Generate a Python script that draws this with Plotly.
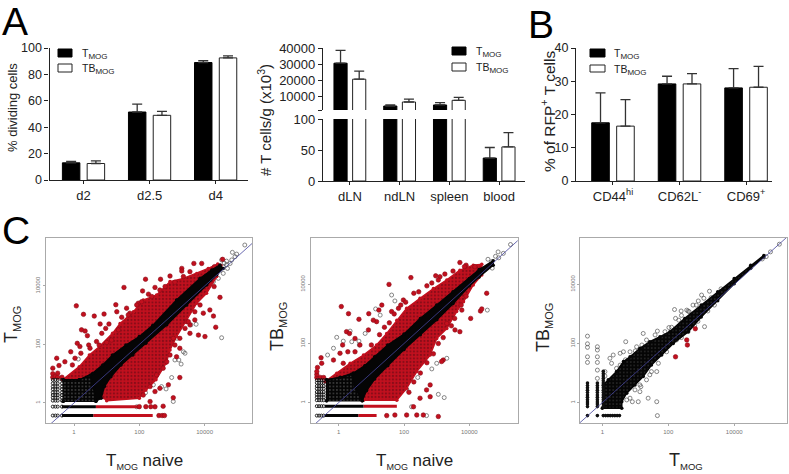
import plotly.graph_objects as go

W, H = 789, 474
FONT = "Liberation Sans"

# ---------- bar data ----------
dividing_days = ["d2", "d2.5", "d4"]
dividing_t = [13, 51.5, 89]
dividing_t_err = [1, 6, 1.5]
dividing_tb = [12.5, 49, 92.5]
dividing_tb_err = [2, 3, 1.5]

organs = ["dLN", "ndLN", "spleen", "blood"]
cells_t = [30500, 3750, 4400, 37]
cells_t_err = [8000, 750, 1400, 17]
cells_tb = [20500, 6250, 7300, 55]
cells_tb_err = [5000, 1750, 1900, 23]

markers_b = ["CD44<sup>hi</sup>", "CD62L<sup>-</sup>", "CD69<sup>+</sup>"]
rfp_t = [17.5, 29.2, 28]
rfp_t_err = [9, 2.3, 5.8]
rfp_tb = [16.5, 29.2, 28.2]
rfp_tb_err = [8, 3.1, 6.3]

# ---------- scatter data: log10 expression ----------
c1_red_cloud = [(-.35,.79),(.16,1.24),(.47,1.64),(.78,1.93),(1.18,2.38),(1.41,2.72),(1.82,3.12),(2.12,3.52),
    (2.53,3.69),(2.94,4.15),(3.35,4.26),(3.76,4.43),(4.11,4.6),(4.4,4.75),(4.5,4.7),(4.37,4.32),(4.06,3.75),
    (3.76,3.41),(3.45,2.84),(3.14,2.27),(2.94,1.81),(2.82,1.36),(2.51,.79),(2.2,.44),(2.0,.16),(1.0,.08)]
c1_black_band = [(-.33,.79),(.16,.79),(.57,1.01),(.88,1.30),(1.18,1.64),(1.59,1.98),(2.0,2.27),(2.41,2.65),
    (3.14,3.52),(3.86,4.26),(4.22,4.55),(4.47,4.72),(4.57,4.60),(4.37,4.38),(4.06,4.03),(3.45,3.35),(2.84,2.67),
    (2.2,2.04),(1.8,1.64),(1.44,1.30),(1.13,.90),(.93,.56),(.83,.16),(.67,.06),(-.33,.06)]
c1_low_block = [(-.33,.06),(-.33,.79),(.16,.79),(.5,.95),(.6,.5),(.67,.06)]
c1_red_points = [(.07,3.32),(.29,3.03),(.62,2.97),(.92,3.04),(1.28,3.36),(1.53,3.95),(2.19,4.23),(2.65,4.23),
    (2.48,3.95),(2.94,4.34),(3.30,4.6),(3.3,4.51),(3.67,4.77),(3.91,4.77),(4.55,4.91),(4.30,4.66),(4.29,3.98),
    (4.47,3.61),(4.16,3.18),(4.27,2.97),(4.34,2.59),(4.01,2.27),(2.10,3.83),(1.97,3.41),(1.61,3.24),(1.46,2.93),(3.81,2.32),
    (1.31,3.12),(1.71,3.07),(1.07,2.70),(.80,2.70),(.97,2.55),(.85,2.38),(.23,2.50),(.34,2.46),(.41,2.30),(.10,2.04),
    (-.10,1.75),(.18,1.93),(.45,1.98),(.77,1.98),(-.53,1.53),(-.65,1.19),(-.46,1.28),(-.28,1.41),(.03,1.53),(-.05,1.30),
    (.21,1.70),(.49,1.87),(.69,2.10),(3.96,3.07),(3.70,2.84),(3.55,2.67),
    (3.24,.87),(3.04,.18),(2.73,-.11),(2.48,-.13),(2.48,.39),(2.63,.50),(2.89,.62),(2.33,.05),(3.45,2.78),
    (3.55,2.38),(3.04,2.21),(3.24,1.87),(2.84,1.41),(3.14,1.58),(-.65,.88),(-.65,1.0),(-.57,.92),(-.5,.88),(-.5,1.02),
    (-.37,.88),(2.6,-.43),(2.7,-.43),(2.77,-.43),(2.0,-.125),(2.2,-.125),(2.35,-.125),
    (1.0,2.07),(1.15,2.15),(1.36,2.50),(1.66,3.01),(1.92,3.35),(2.07,3.46),(2.28,3.72),(2.38,3.64),(2.63,3.86),
    (2.79,3.98),(3.09,4.13),(3.35,4.32),(3.55,4.49),(3.86,3.35),(3.70,3.12),(3.50,2.78),(3.40,2.55),(3.24,2.21),
    (3.09,1.98),(2.94,1.64),(2.73,1.19),(2.53,.96),(2.33,.56),(2.12,.27)]
c1_open_points = [(5.23,5.40),(4.85,5.15),(4.98,5.09),(4.78,4.77),(4.67,4.72),(4.57,4.43),(4.42,4.26),(4.27,4.15),
    (4.52,2.23),(3.74,2.69),(3.58,2.67),(3.16,2.21),(3.35,1.75),(3.40,1.70),(3.21,1.47),(3.28,1.33),(3.09,1.47),
    (2.99,.87),(3.04,.05),(2.82,.48),(2.68,.56),(2.33,.67),(2.43,.62),(2.19,.35),(.13,1.50),(1.92,-.13),(4.47,4.60),
    (4.57,4.66),(4.83,4.89),(4.93,5.0),(4.67,4.85),(4.52,4.89),(4.7,4.6),(4.6,4.78)]
c1_rows_black = [(-.43,-.37,.59),(-.125,-.37,.67)]
c1_rows_red = [(-.43,.59,2.41),(-.125,.67,2.0)]
c1_col_x = [-.65,-.57,-.50,-.37]
c1_col_y = [-.43,-.125,.08,.18,.27,.36,.47,.56,.67,.79]

c2_red_cloud = [(-.42,.71),(-.06,.99),(.35,1.33),(.76,1.61),(1.16,1.95),(1.47,2.34),(1.78,2.79),(2.08,3.19),
    (2.49,3.53),(2.90,3.86),(3.31,4.15),(3.71,4.48),(4.12,4.65),(4.38,4.68),(4.38,4.32),(4.12,3.98),(3.82,3.41),
    (3.61,3.08),(3.31,2.51),(3.0,2.17),(2.80,1.61),(2.39,1.05),(2.08,.48),(1.78,.08),(.76,.08)]
c2_black_band = [(-.37,.77),(.04,.85),(.45,1.0),(.8,1.25),(1.1,1.55),(1.5,1.95),(2,2.32),(2.5,2.85),(3,3.3),(3.5,3.75),
    (4,4.2),(4.3,4.5),(4.73,4.8),(4.73,4.65),(4.3,4.25),(4,3.95),(3.5,3.35),(3,2.8),(2.5,2.3),(2,1.8),(1.5,1.25),
    (1.1,.8),(.85,.4),(.72,.06),(-.37,.06)]
c2_low_block = [(-.37,.06),(-.37,.77),(.04,.85),(.4,.95),(.5,.5),(.72,.06)]
c2_red_points = [(.08,3.25),(.30,3.01),(.62,2.82),(.92,3.01),(1.32,3.30),(1.54,4.0),(2.21,4.23),(2.97,4.29),
    (3.10,4.26),(3.71,4.74),(3.90,4.65),(4.17,4.60),(1.23,3.13),(1.62,3.08),(1.83,3.19),(1.98,3.47),(1.16,2.74),
    (1.06,2.79),(.91,2.46),(.24,2.40),(.33,2.34),(.50,2.17),(.12,1.95),(.28,1.72),(.04,1.67),(.50,1.72),
    (-.54,1.52),(-.65,1.19),(-.52,1.33),(-.16,1.44),(.14,1.33),(.65,1.95),(4.34,3.10),(4.38,3.17),(4.04,2.85),
    (3.77,3.13),(4.53,3.70),(3.71,2.40),(3.56,2.46),(3.31,2.68),(3.20,1.44),(3.15,1.39),(2.80,.60),(2.69,.43),
    (2.49,.15),(2.80,.20),(3.05,-.47),(2.29,-.14),(2.39,-.42),(2.59,-.42),(2.08,-.42),(1.72,-.42),(1.47,-.44),
    (-.67,.85),(-.67,.95),(-.56,.85),(-.46,.85),(-.67,1.05),
    (1.0,1.95),(1.25,2.3),(1.4,2.55),(1.55,2.7),(1.7,3.0),(1.9,3.3),(2.05,3.4),(2.3,3.7),(2.45,3.75),(2.7,3.95),
    (2.85,4.05),(3.05,4.15),(3.25,4.35),(3.5,4.45),(3.85,4.6),(3.9,3.6),(3.75,3.3),(3.55,2.85),(3.45,2.6),
    (3.2,2.2),(3.05,2.0),(2.9,1.65),(2.7,1.35),(2.5,1.0),(2.3,.7),(2.15,.35)]
c2_open_points = [(5.26,5.35),(4.88,5.10),(5.04,5.05),(4.57,4.85),(4.68,4.77),(4.55,3.13),(1.62,3.64),(1.72,3.44),
    (1.13,3.17),(1.27,2.96),(.35,2.42),(-.06,2.21),(.14,2.08),(-.16,1.84),(-.34,1.61),(.40,2.06),(.62,2.08),
    (.63,1.95),(.81,2.34),(3.05,.28),(3.23,.17),(3.31,1.50),(2.85,1.14),(3.0,1.33),(2.42,.85),(2.08,.46),
    (2.23,-.14),(2.69,-.44),(4.8,4.95),(4.9,4.9),(4.7,4.55),(4.6,4.62)]
c2_rows_black = [(-.44,-.42,.60),(-.12,-.42,.76)]
c2_rows_red = [(-.44,.60,1.16),(-.12,.76,1.78)]
c2_col_x = [-.67,-.6,-.53,-.46]
c2_col_y = [-.44,-.12,.08,.18,.27,.36,.47,.56,.67,.76]

c3_black_band = [(.03,.6),(.18,.77),(.43,1.05),(.64,1.39),(.84,1.55),(1.14,1.84),(1.44,2.06),(1.75,2.23),(2.05,2.40),
    (2.5,2.85),(3,3.3),(3.5,3.75),(4,4.2),(4.5,4.65),(4.9,4.98),(4.9,4.93),(4.5,4.55),(4,4.02),(3.5,3.45),(3,2.9),
    (2.61,2.40),(2.15,2.0),(1.80,1.61),(1.49,1.27),(1.24,.88),(.99,.60),(.74,.32),(.59,.03),(.59,-.19),(.0,-.19)]
c3_red_points = [(2.82,2.50),(2.56,2.12),(2.58,1.95),(2.22,1.55)]
c3_open_points = [(3.25,3.77),(3.01,3.64),(3.08,3.53),(2.75,3.30),(2.91,3.44),(2.19,3.15),(2.39,3.10),(2.56,3.13),
    (2.63,3.08),(2.22,2.85),(2.32,2.79),(2.02,2.54),(1.67,2.42),(1.24,2.34),(.71,2.06),(.64,1.72),(.33,1.61),
    (.23,1.5),(.28,1.33),(.54,1.67),(1.65,1.05),(1.49,1.05),(1.39,.15),(1.65,.03),(1.67,-.44),(.91,.03),(1.09,.03),
    (1.17,.54),(1.14,.37),(3.10,2.57),(5.37,5.36),(5.10,5.10),(4.97,4.94),(4.85,4.86),
    (.43,1.16),(.54,1.27),(.84,1.72),(1.04,1.89),(1.34,2.12),(1.6,2.29),(.79,.82),(.99,.43),(1.14,.60),(1.34,.77),
    (1.44,.94),(1.70,1.33),(1.95,1.72),(2.25,2.12),(.64,.54),(.84,.15),(.74,.09),(1.9,2.4),(2.1,2.55),(2.4,2.95),
    (2.6,3.1),(2.85,3.3),(2.4,2.2),(2.6,2.4),(2.8,2.6),(2.9,2.75),(3.2,3.1),(3.4,3.3),(3.3,3.55),(3.6,3.85),(1.2,1.95),
    (1.0,1.75),(.7,1.45),(1.5,1.55),(1.85,1.95),
    (-.45,2.25),(-.45,1.99),(-.45,1.87),(-.45,1.55),(-.45,1.36),(-.15,1.89),(-.15,1.78),(-.15,1.55),(-.15,1.36),(-.15,1.10),
    (-.15,.82),(.08,1.05),(.08,.9),(.2,.3),(.3,.15),(.4,.15),(.45,.3),(.5,.03)]
c3_col_x = [-.45,-.15,.03]
c3_col_y = [-.135,-.05,.02,.1,.18,.26,.34,.42,.5,.58,.66]
c3_low_row_x = [-.45,-.15,.03,.1,.17,.24,.31,.38,.45,.52]
c3_low_row_y = [-.44]
c3_upper_stub_x = [.03]
c3_upper_stub_y = [.74,.82,.9,.98,1.06]

TICK_VALUES = [1, 100, 10000]
TICK_TEXT = ["1", "100", "10000"]
RED = "#c2101e"
RED_DARK = "#8a0c18"

fig = go.Figure()


def dx(a, b):
    return [a / W, b / W]


def dy(top, bottom):
    return [1 - bottom / H, 1 - top / H]


def bars(x, t, te, tb, tbe, ax):
    xa, ya = ax
    fig.add_trace(go.Bar(x=x, y=t, name="TMOG", marker=dict(color="#000000", line=dict(color="#000000", width=1)),
        error_y=dict(type="data", symmetric=False, array=te, arrayminus=[0]*len(te), color="#333333", thickness=1.3, width=5),
        xaxis=xa, yaxis=ya, showlegend=False, hoverinfo="skip"))
    fig.add_trace(go.Bar(x=x, y=tb, name="TBMOG", marker=dict(color="#ffffff", line=dict(color="#222222", width=1)),
        error_y=dict(type="data", symmetric=False, array=tbe, arrayminus=[0]*len(tbe), color="#333333", thickness=1.3, width=5),
        xaxis=xa, yaxis=ya, showlegend=False, hoverinfo="skip"))


bars(list(range(3)), dividing_t, dividing_t_err, dividing_tb, dividing_tb_err, ("x", "y"))
bars(list(range(4)), cells_t, cells_t_err, cells_tb, cells_tb_err, ("x2", "y2"))
bars(list(range(4)), cells_t, cells_t_err, cells_tb, cells_tb_err, ("x3", "y3"))
bars(list(range(3)), rfp_t, rfp_t_err, rfp_tb, rfp_tb_err, ("x4", "y4"))


def xs(pts):
    return [10 ** p[0] for p in pts]


def ys(pts):
    return [10 ** p[1] for p in pts]


def poly(pts, color, name, ax, pattern=None):
    fig.add_trace(go.Scatter(x=xs(pts), y=ys(pts), mode="lines+markers", fill="toself", fillcolor=color,
        fillpattern=pattern, line=dict(color=color, width=1.5), marker=dict(color=color, size=3.5), name=name,
        xaxis=ax[0], yaxis=ax[1], showlegend=False, hoverinfo="skip"))


RED_PATTERN = dict(shape=".", bgcolor=RED, fgcolor=RED_DARK, size=3.5, solidity=0.3, fillmode="replace")
SPECK_PATTERN = dict(shape=".", bgcolor="#050505", fgcolor="#777777", size=3.5, solidity=0.12, fillmode="replace")
BAND_PATTERN = dict(shape=".", bgcolor="#050505", fgcolor="#3c3c3c", size=3.5, solidity=0.15, fillmode="replace")


def points(pts, kind, name, ax):
    if kind == "red":
        m = dict(color=RED, size=4.5, line=dict(color=RED_DARK, width=0.6))
    elif kind == "open":
        m = dict(symbol="circle-open", color="#555555", size=4, line=dict(color="#555555", width=0.7))
    elif kind == "solid":
        m = dict(color="#101010", size=3.6)
    else:
        m = dict(symbol="circle-open", color="#111111", size=3, line=dict(color="#111111", width=0.9))
    fig.add_trace(go.Scatter(x=xs(pts), y=ys(pts), mode="markers", marker=m, name=name,
        xaxis=ax[0], yaxis=ax[1], showlegend=False, hoverinfo="skip"))


def rows(rs, color, name, ax):
    for level, a, b in rs:
        fig.add_trace(go.Scatter(x=[10 ** a, 10 ** b], y=[10 ** level, 10 ** level], mode="lines",
            line=dict(color=color, width=3), name=name, xaxis=ax[0], yaxis=ax[1], showlegend=False, hoverinfo="skip"))


def diagonal(ax):
    fig.add_trace(go.Scatter(x=[0.01, 10 ** 7], y=[0.01, 10 ** 7], mode="lines", line=dict(color="#45459c", width=0.8),
        name="identity", xaxis=ax[0], yaxis=ax[1], showlegend=False, hoverinfo="skip"))


def grid(col_x, col_y):
    return [(a, b) for a in col_x for b in col_y]


ax5 = ("x5", "y5")
points(c1_open_points, "open", "not significant", ax5)
poly(c1_red_cloud, RED, "changed", ax5, RED_PATTERN)
rows(c1_rows_red, RED, "changed", ax5)
points(c1_red_points, "red", "changed", ax5)
poly(c1_black_band, "#050505", "unchanged", ax5)
poly(c1_low_block, "#050505", "low counts", ax5, SPECK_PATTERN)
rows(c1_rows_black, "#050505", "unchanged", ax5)
points(grid(c1_col_x, c1_col_y), "black", "low counts", ax5)
diagonal(ax5)

ax6 = ("x6", "y6")
points(c2_open_points, "open", "not significant", ax6)
poly(c2_red_cloud, RED, "changed", ax6, RED_PATTERN)
rows(c2_rows_red, RED, "changed", ax6)
points(c2_red_points, "red", "changed", ax6)
poly(c2_black_band, "#050505", "unchanged", ax6)
poly(c2_low_block, "#050505", "low counts", ax6, SPECK_PATTERN)
rows(c2_rows_black, "#050505", "unchanged", ax6)
points(grid(c2_col_x, c2_col_y), "black", "low counts", ax6)
diagonal(ax6)

ax7 = ("x7", "y7")
points(c3_open_points, "open", "not significant", ax7)
poly(c3_black_band, "#050505", "unchanged", ax7, BAND_PATTERN)
points(grid(c3_col_x, c3_col_y), "solid", "low counts", ax7)
points(grid(c3_low_row_x, c3_low_row_y), "solid", "low counts", ax7)
points(grid(c3_upper_stub_x, c3_upper_stub_y), "solid", "low counts", ax7)
points(c3_red_points, "red", "changed", ax7)
diagonal(ax7)


def bar_x(dom, rng, vals=None, text=None):
    d = dict(domain=dom, range=rng, automargin=False, showgrid=False, zeroline=False, showline=True, linecolor="#222222", linewidth=1.2,
             ticks="outside", ticklen=3, tickcolor="#222222", tickfont=dict(family=FONT, size=13, color="#222222"))
    if vals is not None:
        d.update(tickmode="array", tickvals=vals, ticktext=text)
    else:
        d.update(visible=False)
    return d


def bar_y(dom, rng, vals, text=None, size=12.5):
    return dict(domain=dom, range=rng, automargin=False, tickmode="array", tickvals=vals, ticktext=text if text else [str(v) for v in vals],
                showgrid=False, zeroline=False, showline=True, linecolor="#222222", linewidth=1.2, ticks="outside",
                ticklen=4, tickcolor="#222222", tickfont=dict(family=FONT, size=size, color="#222222"))


def sc_x(dom, rng):
    return dict(domain=dom, range=rng, automargin=False, type="log", tickmode="array", tickvals=TICK_VALUES, ticktext=TICK_TEXT,
                showgrid=False, zeroline=False, showline=True, mirror=True, linecolor="#aaaaaa", linewidth=1.2,
                ticks="outside", ticklen=2, tickcolor="#aaaaaa", tickfont=dict(family=FONT, size=6, color="#777777"))


def sc_y(dom, rng):
    d = sc_x(dom, rng)
    d["tickangle"] = -90
    return d


fig.update_layout(
    width=W, height=H, autosize=False, margin=dict(l=0, r=0, t=0, b=0), paper_bgcolor="white", plot_bgcolor="white",
    barmode="group", bargap=0.25, bargroupgap=0.295, font=dict(family=FONT, color="#222222"), showlegend=False,
    xaxis=dict(bar_x(dx(49.5, 248), [-.515, 2.49], list(range(3)), dividing_days), anchor="y"),
    yaxis=dict(bar_y(dy(48, 180), [0, 100], [0, 20, 40, 60, 80, 100]), anchor="x"),
    xaxis2=dict(bar_x(dx(323, 525), [-.54, 3.52], list(range(4)), organs), anchor="y2"),
    yaxis2=dict(bar_y(dy(119, 181), [0, 100], [0, 50, 100], size=13), anchor="x2"),
    xaxis3=dict(bar_x(dx(323, 525), [-.54, 3.52]), anchor="y3", showline=False),
    yaxis3=dict(bar_y(dy(48, 110), [1250, 40000], [1250, 10000, 20000, 30000, 40000],
                      ["", "10000", "20000", "30000", "40000"], size=13), anchor="x3"),
    xaxis4=dict(bar_x(dx(576, 772), [-.556, 2.39], list(range(3)), markers_b), anchor="y4"),
    yaxis4=dict(bar_y(dy(48, 181), [0, 40], [0, 10, 20, 30, 40]), anchor="x4"),
    xaxis5=dict(sc_x(dx(45.7, 252.3), [-.867, 5.46]), anchor="y5"),
    yaxis5=dict(sc_y(dy(237.7, 423.3), [-.695, 5.65]), anchor="x5"),
    xaxis6=dict(sc_x(dx(310.7, 517.7), [-.857, 5.48]), anchor="y6"),
    yaxis6=dict(sc_y(dy(237.7, 423.3), [-.70, 5.58]), anchor="x6"),
    xaxis7=dict(sc_x(dx(580, 787.3), [-.677, 5.61]), anchor="y7"),
    yaxis7=dict(sc_y(dy(237.7, 423.3), [-.70, 5.58]), anchor="x7"),
)


def note(text, x, y, size, angle=0, anchor="center", color="#222222"):
    fig.add_annotation(text=text, x=x / W, y=1 - y / H, xref="paper", yref="paper", showarrow=False, xanchor=anchor,
                       yanchor="middle", textangle=angle, font=dict(family=FONT, size=size, color=color))


def mog(prefix, size):
    return f'{prefix}<sub><span style="font-size:{size}px">MOG</span></sub>'


note("A", 0, 22, 39, anchor="left", color="#000000")
note("B", 526, 24, 39, anchor="left", color="#000000")
note("C", 0, 231, 39, anchor="left", color="#000000")
note("% dividing cells", 12, 108, 13, angle=-90)
note("# T cells/g (x10<sup>3</sup>)", 264, 120, 15, angle=-90)
note("% of RFP<sup>+</sup> T cells", 548, 112, 15.5, angle=-90)
note(mog("T", 11), 12, 325, 18, angle=-90)
note(mog("TB", 11), 278, 327, 18, angle=-90)
note(mog("TB", 11), 544, 328, 18, angle=-90)
note(mog("T", 9) + " naive", 144.5, 461, 17)
note(mog("T", 9) + " naive", 414, 461, 17)
note(mog("T", 9.5), 686, 461, 18)

for x0, x1, y0, y1, y2, y3, tx in [(58, 72, 49, 57, 64, 72, 80), (452, 466, 47, 55, 63, 71, 474), (590, 605, 49, 57, 65, 72, 612)]:
    fig.add_shape(type="rect", xref="paper", yref="paper", x0=x0 / W, x1=x1 / W, y0=1 - y1 / H, y1=1 - y0 / H,
                  fillcolor="#000000", line=dict(color="#000000", width=1))
    fig.add_shape(type="rect", xref="paper", yref="paper", x0=x0 / W, x1=x1 / W, y0=1 - y3 / H, y1=1 - y2 / H,
                  fillcolor="#ffffff", line=dict(color="#222222", width=1))
    note(mog("T", 8), tx, (y0 + y1) / 2 + 1, 10.5, anchor="left")
    note(mog("TB", 8), tx, (y2 + y3) / 2 + 1, 10.5, anchor="left")

fig.write_html("out.html", post_script="document.body.style.margin='0';", config={"displayModeBar": False})
